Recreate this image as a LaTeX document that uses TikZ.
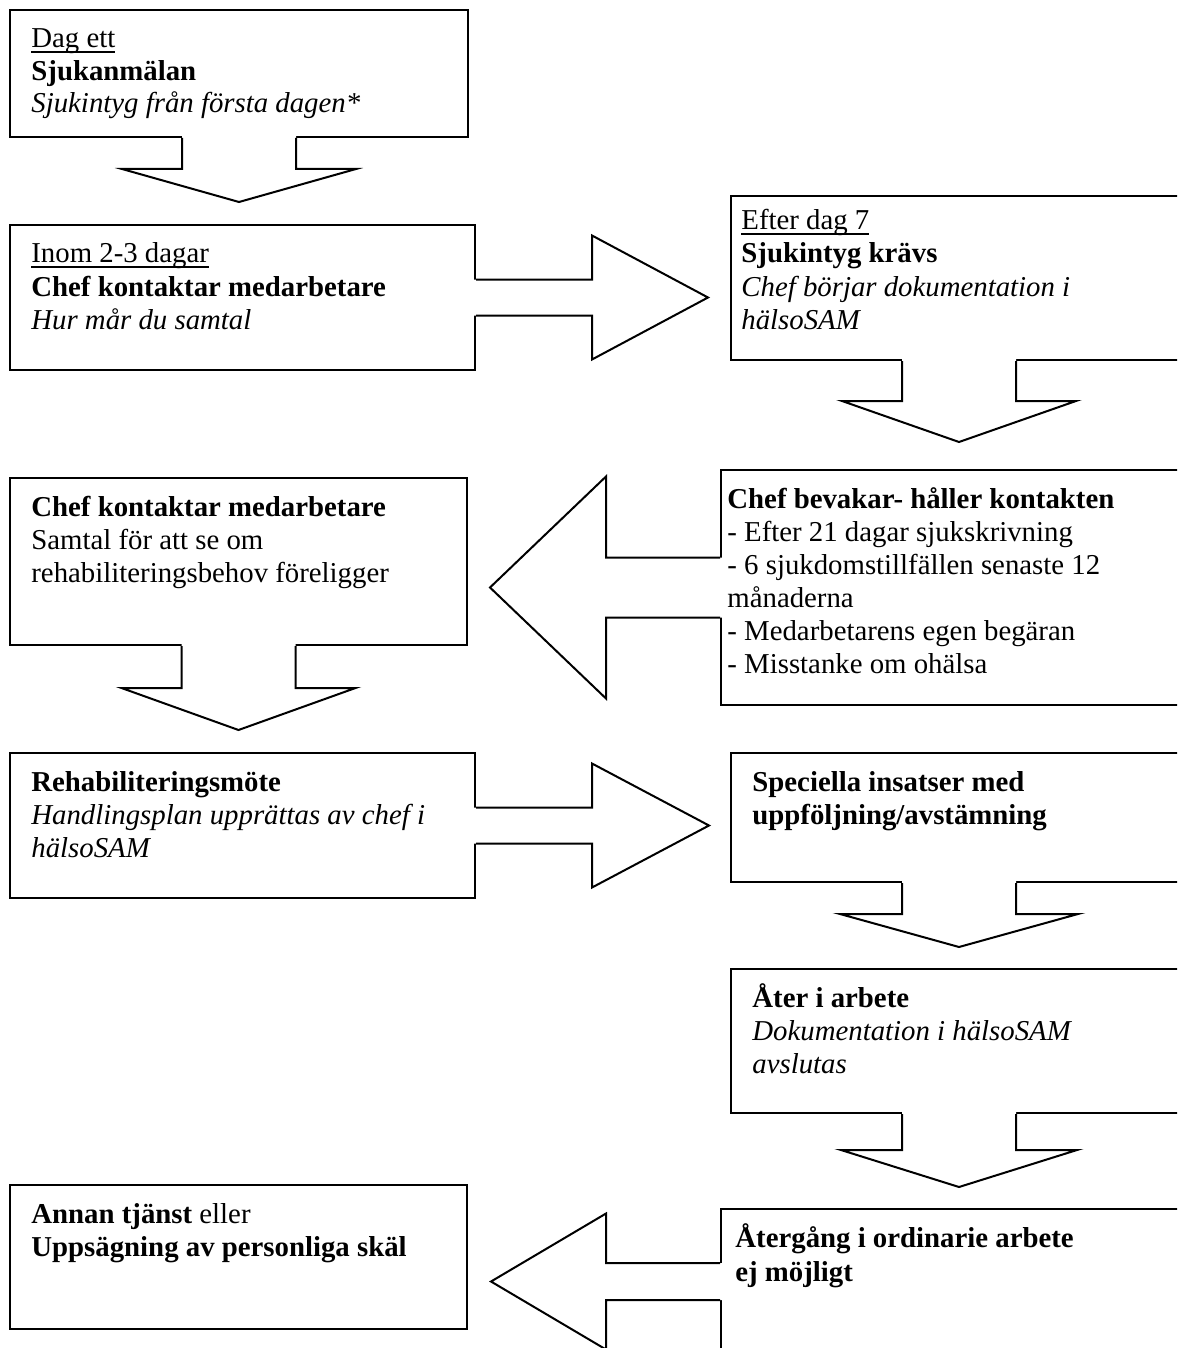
\documentclass[tikz,border=0pt]{standalone}
\usepackage{fontspec}
\setmainfont{Liberation Serif}
\usetikzlibrary{calc,fit}
\tikzset{
  box/.style={draw, line width=1pt, inner sep=0pt},
  callout/.style={draw, line width=1pt, line join=miter},
  txt/.style={inner sep=0pt, anchor=base west, font=\fontsize{14.4}{16.5}\selectfont},
}
\newlength\wullen
\newcommand\wul[1]{\settowidth{\wullen}{#1}\rlap{\rule[-2.4pt]{\wullen}{0.65pt}}#1}
\newcommand\callDown[5]{%
  \fill[white] ($(#1)+(-#2,-2)$) -- ($(#1)+(-#2,#3)$) -- ($(#1)+(-#4,#3)$) -- ($(#1)+(0,#3+#5)$) -- ($(#1)+(#4,#3)$) -- ($(#1)+(#2,#3)$) -- ($(#1)+(#2,-2)$) -- cycle;
  \draw[callout] ($(#1)+(-#2,0)$) -- ($(#1)+(-#2,#3)$) -- ($(#1)+(-#4,#3)$) -- ($(#1)+(0,#3+#5)$) -- ($(#1)+(#4,#3)$) -- ($(#1)+(#2,#3)$) -- ($(#1)+(#2,0)$);
}
\newcommand\callRight[5]{%
  \fill[white] ($(#1)+(-2,-#2)$) -- ($(#1)+(#3,-#2)$) -- ($(#1)+(#3,-#4)$) -- ($(#1)+(#3+#5,0)$) -- ($(#1)+(#3,#4)$) -- ($(#1)+(#3,#2)$) -- ($(#1)+(-2,#2)$) -- cycle;
  \draw[callout] ($(#1)+(0,-#2)$) -- ($(#1)+(#3,-#2)$) -- ($(#1)+(#3,-#4)$) -- ($(#1)+(#3+#5,0)$) -- ($(#1)+(#3,#4)$) -- ($(#1)+(#3,#2)$) -- ($(#1)+(0,#2)$);
}
\newcommand\callLeft[5]{%
  \fill[white] ($(#1)+(2,-#2)$) -- ($(#1)+(-#3,-#2)$) -- ($(#1)+(-#3,-#4)$) -- ($(#1)+(-#3-#5,0)$) -- ($(#1)+(-#3,#4)$) -- ($(#1)+(-#3,#2)$) -- ($(#1)+(2,#2)$) -- cycle;
  \draw[callout] ($(#1)+(0,-#2)$) -- ($(#1)+(-#3,-#2)$) -- ($(#1)+(-#3,-#4)$) -- ($(#1)+(-#3-#5,0)$) -- ($(#1)+(-#3,#4)$) -- ($(#1)+(-#3,#2)$) -- ($(#1)+(0,#2)$);
}
\begin{document}
\begin{tikzpicture}[x=0.5pt,y=-0.5pt]
\useasboundingbox (0,0) rectangle (1177,1348);
\fill[white] (0,0) rectangle (1177,1348);
\clip (0,0) rectangle (1177,1348);

% boxes
\node[box, fit={(10,10) (468,137)}] (A) {};
\node[box, fit={(10,225) (475,370)}] (B) {};
\node[box, fit={(731,196) (1187,360)}] (C) {};
\node[box, fit={(10,478) (467,645)}] (D) {};
\node[box, fit={(721,470) (1187,705)}] (E) {};
\node[box, fit={(10,753) (475,898)}] (R) {};
\node[box, fit={(731,753) (1187,882)}] (F) {};
\node[box, fit={(731,969) (1187,1113)}] (G) {};
\node[box, fit={(721,1209) (1187,1354)}] (H) {};
\node[box, fit={(10,1185) (467,1329)}] (I) {};

% callout arrows
\callDown{A.south}{57}{31}{117}{33}
\callRight{B.east}{18}{116}{62}{116}
\callDown{C.south}{57}{40}{117}{41}
\callLeft{E.west}{30}{114}{111}{116}
\callDown{D.south}{57}{42}{117}{42}
\callRight{R.east}{18}{116}{62}{117}
\callDown{F.south}{57}{31}{119}{33}
\callDown{G.south}{57}{36}{118}{37}
\callLeft{H.west}{18.5}{114}{68}{115}

% texts
\node[txt] (a1) at (31,48) {\wul{Dag ett}};
\node[txt] (a2) at (31,81) {\bfseries Sjukanmälan};
\node[txt] (a3) at (31,113) {\itshape Sjukintyg från första dagen*};

\node[txt] (b1) at (31,263) {\wul{Inom 2-3 dagar}};
\node[txt] (b2) at (31,296) {\bfseries Chef kontaktar medarbetare};
\node[txt] (b3) at (31,329) {\itshape Hur mår du samtal};

\node[txt] (c1) at (741,230) {\wul{Efter dag 7}};
\node[txt] (c2) at (741,263) {\bfseries Sjukintyg krävs};
\node[txt] (c3) at (741,296) {\itshape Chef börjar dokumentation i};
\node[txt] (c4) at (741,329) {\itshape hälsoSAM};

\node[txt] (d1) at (31,516) {\bfseries Chef kontaktar medarbetare};
\node[txt] (d2) at (31,549) {Samtal för att se om};
\node[txt] (d3) at (31,582) {rehabiliteringsbehov föreligger};

\node[txt] (e1) at (727,508) {\bfseries Chef bevakar- håller kontakten};
\node[txt] (e2) at (727,541) {- Efter 21 dagar sjukskrivning};
\node[txt] (e3) at (727,574) {- 6 sjukdomstillfällen senaste 12};
\node[txt] (e4) at (727,607) {månaderna};
\node[txt] (e5) at (727,640) {- Medarbetarens egen begäran};
\node[txt] (e6) at (727,673) {- Misstanke om ohälsa};

\node[txt] (r1) at (31,791) {\bfseries Rehabiliteringsmöte};
\node[txt] (r2) at (31,824) {\itshape Handlingsplan upprättas av chef i};
\node[txt] (r3) at (31,857) {\itshape hälsoSAM};

\node[txt] (f1) at (752,791) {\bfseries Speciella insatser med};
\node[txt] (f2) at (752,824) {\bfseries uppföljning/avstämning};

\node[txt] (g1) at (752,1007) {\bfseries Åter i arbete};
\node[txt] (g2) at (752,1040) {\itshape Dokumentation i hälsoSAM};
\node[txt] (g3) at (752,1073) {\itshape avslutas};

\node[txt] (h1) at (735,1247) {\bfseries Återgång i ordinarie arbete};
\node[txt] (h2) at (735,1281) {\bfseries ej möjligt};

\node[txt] (i1) at (31,1223) {\textbf{Annan tjänst} eller};
\node[txt] (i2) at (31,1256) {\bfseries Uppsägning av personliga skäl};
\end{tikzpicture}
\end{document}
